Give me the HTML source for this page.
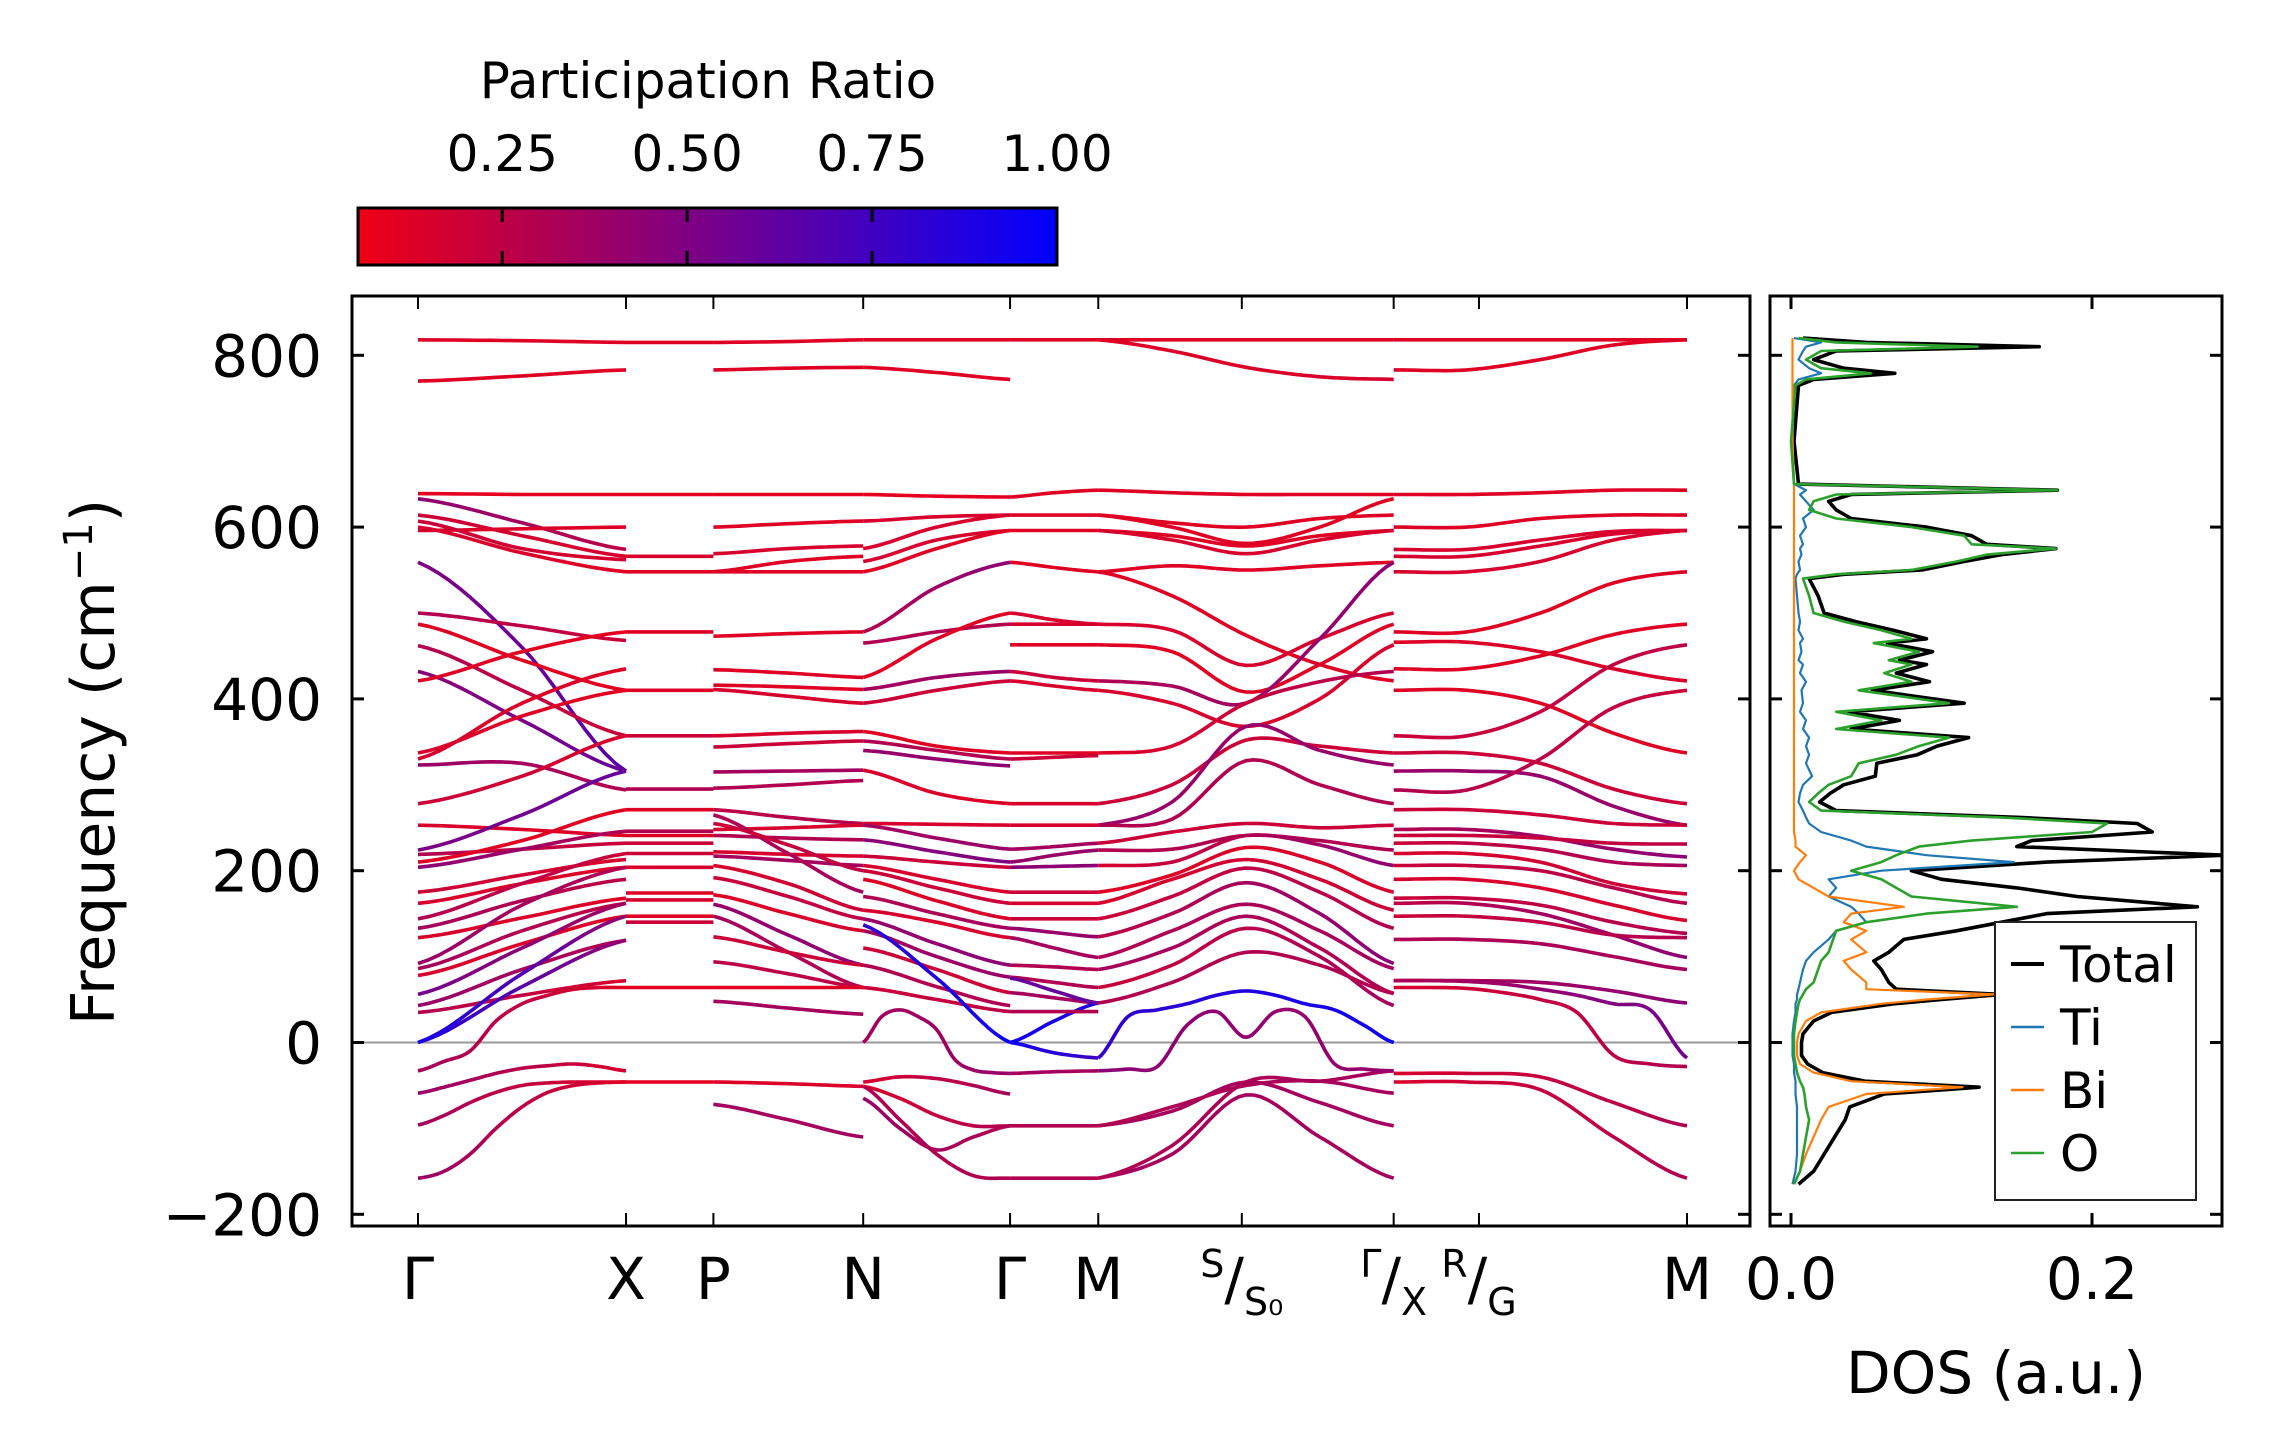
<!DOCTYPE html>
<html><head><meta charset="utf-8"><style>
html,body{margin:0;padding:0;background:#fff;}
svg{display:block;font-family:"DejaVu Sans","Liberation Sans",sans-serif;}
</style></head><body>
<svg id="fig" width="2271" height="1455" viewBox="0 0 2271 1455" xmlns="http://www.w3.org/2000/svg">
<defs>
<linearGradient id="cbar-grad" x1="0" x2="1" y1="0" y2="0"><stop offset="0" stop-color="rgb(240,0,20)"/><stop offset="1" stop-color="rgb(0,0,255)"/></linearGradient>
<clipPath id="main-clip"><rect x="352" y="296" width="1398" height="930"/></clipPath>
<clipPath id="dos-clip"><rect x="1770" y="296" width="452" height="930"/></clipPath>
</defs>
<g id="colorbar">
<text x="708" y="98" text-anchor="middle" font-size="50">Participation Ratio</text>
<rect x="358" y="208" width="699" height="57" fill="url(#cbar-grad)" stroke="#000" stroke-width="3"/>
<g id="cbar-ticks"></g>
</g>
<g id="main">
<line x1="352" x2="1750" y1="1042.5" y2="1042.5" stroke="#999" stroke-width="2"/>
<g id="bands" clip-path="url(#main-clip)"></g>
<rect x="352" y="296" width="1398" height="930" fill="none" stroke="#000" stroke-width="3"/>
<g id="main-axes"></g>
<text transform="translate(114,762) rotate(-90)" text-anchor="middle" font-size="60">Frequency (cm<tspan dy="-22" font-size="40">−1</tspan><tspan dy="22">)</tspan></text>
</g>
<g id="dos">
<g id="dos-lines" clip-path="url(#dos-clip)"></g>
<rect x="1770" y="296" width="452" height="930" fill="none" stroke="#000" stroke-width="3"/>
<g id="dos-axes"></g>
<text x="1996" y="1393" text-anchor="middle" font-size="58">DOS (a.u.)</text>
<g id="legend">
<rect x="1995" y="922" width="201" height="278" fill="#fff" stroke="#222" stroke-width="2"/>
</g>
</g>
</svg>
<script>
// ---------- data ----------
const kTickPos=[0,1.0,1.42,2.14,2.846,3.27,3.96,4.69,5.10,6.10];
const freqTicks=[-200,0,200,400,600,800];
const freqTickLabels=["−200","0","200","400","600","800"];
const cbarTicks=[0.25,0.5,0.75,1.0];
const cbarTickLabels=["0.25","0.50","0.75","1.00"];
const dosTicks=[0.0,0.2];
const dosTickLabels=["0.0","0.2"];

const segGX=[0,1.0];
const bandsGX=[
[[818,817,815],.12,.12],[[770,776,783],.12,.12],[[639,638,638],.1,.1],[[633,605,574],.45,.25],
[[614,590,566],.2,.15],[[596,598,600],.15,.12],[[607,575,562],.2,.15],[[600,570,548],.15,.12],
[[559,460,316],.5,.65],[[500,485,468],.3,.2],[[487,445,410],.12,.1],[[462,410,357],.3,.2],
[[432,375,316],.45,.6],[[421,455,478],.12,.1],[[337,380,410],.15,.1],[[330,395,435],.15,.12],
[[323,325,294],.4,.3],[[278,310,357],.2,.15],[[253,248,241],.15,.12],[[224,265,316],.5,.6],
[[219,225,232],.3,.2],[[210,235,271],.12,.1],[[204,225,246],.45,.3],[[175,195,213],.2,.15],
[[162,185,204],.15,.12],[[144,185,220],.3,.2],[[133,165,190],.35,.25],[[122,145,168],.15,.12],
[[92,160,204],.4,.3],[[86,130,162],.35,.25],[[78,115,147],.15,.12],[[56,110,162],.55,.35],
[[43,85,119],.4,.3],[[35,55,72],.3,.15],[[0,80,147],.95,.4],[[0,65,119],.9,.4],
[[-33,-22,-10,25,45,55,62,64,64],.35,.12],[[-59,-52,-44,-36,-30,-27,-25,-28,-33],.4,.15],
[[-96,-85,-70,-58,-50,-47,-46,-46,-46],.35,.12],[[-158,-150,-130,-100,-75,-58,-50,-47,-46],.4,.12]
];
const segXP=[1.0,1.42];
const bandsXP=[
[[815,815],.12,.12],[[638,638],.1,.1],[[566,566],.15,.15],[[548,548],.12,.12],[[478,478],.12,.12],
[[410,410],.12,.12],[[357,357],.2,.2],[[295,295],.3,.3],[[271,271],.12,.12],[[246,246],.3,.3],
[[241,241],.12,.12],[[232,232],.2,.2],[[220,220],.2,.2],[[204,204],.15,.15],[[174,174],.12,.12],
[[166,166],.15,.15],[[147,147],.12,.12],[[140,140],.2,.2],[[64,64],.1,.1],[[-46,-46],.1,.1]
];
const segPN=[1.42,2.14];
const bandsPN=[
[[815,816,818],.12,.12],[[783,785,786],.12,.12],[[638,638,638],.1,.1],[[600,604,607],.12,.12],
[[569,575,578],.15,.15],[[548,560,566],.12,.12],[[548,548,548],.12,.12],[[473,476,478],.12,.12],
[[434,430,425],.12,.12],[[416,414,411],.12,.12],[[411,403,395],.15,.15],[[357,360,362],.15,.15],
[[344,348,351],.2,.2],[[315,316,317],.35,.35],[[296,300,305],.3,.3],[[271,262,255],.25,.3],
[[248,250,253],.15,.15],[[241,238,236],.3,.3],[[222,219,217],.15,.15],[[217,212,206],.35,.35],
[[206,185,154],.15,.2],[[192,170,144],.2,.25],[[172,150,130],.12,.15],[[161,125,90],.4,.45],
[[147,105,64],.35,.3],[[123,105,90],.2,.2],[[94,80,64],.25,.25],[[64,64,64],.1,.12],
[[48,40,33],.35,.35],[[-46,-48,-51],.12,.15],[[-72,-90,-110],.35,.35],[[265,220,175],.3,.35],[[255,230,200],.2,.25]
];
const segNG=[2.14,2.846];
const bandsNG=[
[[818,818,818],.12,.12],[[786,780,772],.12,.12],[[638,636,635],.1,.1],[[607,612,614],.15,.15],
[[575,600,614],.15,.15],[[560,585,596],.15,.15],[[548,575,596],.12,.12],[[478,530,559],.3,.45],
[[465,478,487],.3,.3],[[425,470,500],.12,.12],[[411,425,432],.35,.4],[[395,410,421],.2,.2],
[[362,345,337],.12,.12],[[351,340,330],.3,.3],[[340,330,322],.4,.45],[[317,290,278],.15,.12],
[[255,254,253],.15,.15],[[253,238,225],.35,.4],[[236,222,210],.45,.5],[[217,210,204],.2,.2],
[[206,190,175],.15,.15],[[200,180,162],.2,.2],[[190,165,144],.12,.15],[[170,150,133],.3,.35],
[[154,140,122],.15,.15],[[144,115,90],.4,.45],[[130,100,76],.35,.4],[[110,85,58],.2,.2],
[[90,65,43],.3,.3],[[64,50,36],.2,.25],[[137,75,0],.8,.95],
[[0,30,38,30,15,-20,-32,-35,-36],.35,.4],[[-46,-40,-42,-50,-60],.15,.35],
[[-51,-65,-85,-97,-97],.15,.3],[[-65,-100,-125,-110,-97],.4,.3],[[-51,-90,-130,-155,-158],.3,.3]
];
const segGM=[2.846,3.27];
const bandsGM=[
[[818,818,818],.12,.12],[[635,640,643],.12,.12],[[614,614,614],.12,.12],[[596,596,596],.12,.12],
[[559,553,548],.12,.12],[[500,492,487],.15,.15],[[487,487,487],.15,.15],[[463,463,463],.12,.12],
[[432,425,421],.2,.2],[[421,415,410],.15,.15],[[337,337,337],.12,.12],[[330,332,334],.2,.2],
[[278,278,278],.15,.15],[[253,253,253],.15,.15],[[225,228,232],.35,.35],[[210,218,224],.4,.4],
[[204,205,206],.45,.45],[[175,175,175],.2,.2],[[162,162,162],.15,.15],[[144,144,144],.2,.2],
[[133,128,123],.4,.4],[[122,110,99],.35,.35],[[90,88,85],.3,.3],[[76,70,64],.3,.3],[[58,52,46],.35,.35],
[[0,25,46],.95,.85],[[75,60,46],.6,.6],[[36,36,36],.3,.3],[[0,-12,-18],.95,.75],
[[-36,-34,-33],.35,.35],[[-97,-97,-97],.3,.3],[[-158,-158,-158],.3,.3]
];
const segMG=[3.27,4.69];
const bandsMG=[
[[818,818,818,818,818],.12,.12],[[818,805,786,775,772],.12,.15],[[643,640,638,638,638],.12,.12],
[[614,600,581,600,633],.12,.12],[[614,605,600,610,614],.12,.12],[[596,590,578,590,596],.12,.12],
[[596,585,569,585,596],.15,.15],[[548,555,550,555,559],.12,.12],[[548,520,474,440,421],.12,.12],
[[487,480,439,470,500],.15,.15],[[463,455,408,440,487],.12,.12],[[421,415,395,470,559],.3,.45],
[[410,395,368,400,463],.15,.15],[[337,345,395,420,432],.12,.3],[[278,300,352,345,337],.2,.2],
[[253,280,368,340,323],.4,.4],[[253,260,328,300,278],.3,.3],[[232,245,255,250,253],.2,.2],
[[224,225,241,235,224],.3,.3],[[206,210,241,230,206],.15,.45],[[175,195,227,210,175],.12,.15],
[[162,190,213,190,154],.15,.2],[[144,170,203,175,133],.2,.3],[[123,150,186,150,92],.25,.45],
[[99,130,161,130,86],.3,.35],[[85,110,147,110,57],.35,.3],[[64,90,133,100,43],.2,.35],
[[46,70,105,90,57],.3,.3],[[-97,-80,-46,-70,-97],.35,.35],[[-97,-75,-50,-45,-59],.3,.35],
[[-158,-130,-61,-110,-158],.35,.35],[[-158,-120,-46,-45,-33],.3,.35],
[[-18,30,38,45,55,60,55,45,38,20,0],.8,.95],[[-33,-31,-28,20,36,6,36,30,-25,-31,-33],.45,.4]
];
const segGRM=[4.69,6.10];
const bandsGRM=[
[[818,818,818,818,818],.12,.12],[[783,783,795,812,818],.12,.12],[[638,638,640,643,643],.12,.12],
[[600,600,610,614,614],.12,.12],[[574,574,585,595,596],.15,.15],[[566,566,578,592,596],.15,.15],
[[548,548,560,585,596],.15,.15],[[478,478,500,535,548],.12,.12],[[466,466,455,435,421],.12,.15],
[[435,435,450,475,487],.12,.12],[[410,410,395,360,337],.12,.12],[[357,357,385,440,463],.2,.25],
[[337,337,325,295,278],.2,.2],[[316,316,310,275,253],.4,.4],[[294,294,330,390,410],.3,.2],
[[271,271,265,255,253],.2,.2],[[248,248,240,225,216],.3,.45],[[241,241,238,232,231],.2,.25],
[[232,232,225,210,206],.2,.35],[[220,220,210,185,173],.15,.2],[[206,206,200,180,162],.2,.3],
[[190,190,180,160,142],.15,.15],[[168,168,160,140,127],.2,.3],[[162,162,150,125,99],.25,.45],
[[147,147,140,125,122],.2,.3],[[120,120,115,100,85],.3,.35],[[72,72,70,60,46],.3,.45],
[[64,64,63,58,50,35,-15,-25,-28],.15,.3],[[72,72,71,68,62,55,45,38,-18],.3,.55],
[[-36,-36,-40,-70,-97],.15,.3],[[-46,-46,-55,-110,-158],.15,.3]
];
const bandSegments=[[segGX,bandsGX],[segXP,bandsXP],[segPN,bandsPN],[segNG,bandsNG],[segGM,bandsGM],[segMG,bandsMG],[segGRM,bandsGRM]];

const dosFreq=[820,815,810,805,795,785,779,772,765,700,650,643,638,630,620,610,600,590,580,575,568,560,550,545,540,520,500,490,480,470,465,455,445,440,430,420,410,395,385,375,365,355,345,335,325,310,300,290,280,270,262,255,245,235,228,218,210,200,190,180,170,158,150,140,130,120,105,95,85,70,62,56,50,45,35,25,10,0,-15,-25,-35,-45,-52,-60,-75,-90,-110,-130,-150,-165];
const dosO=[.005,.03,.124,.02,.01,.02,.053,.01,.003,0,.002,.177,.03,.015,.012,.03,.08,.115,.12,.176,.13,.11,.08,.03,.008,.012,.015,.035,.06,.08,.055,.085,.065,.08,.062,.08,.045,.105,.03,.06,.03,.105,.085,.07,.045,.04,.025,.018,.012,.02,.14,.21,.2,.12,.085,.07,.06,.04,.06,.07,.08,.15,.09,.05,.03,.028,.025,.02,.018,.015,.01,.008,.006,.005,.004,.003,.002,.002,.002,.003,.004,.006,.008,.009,.01,.012,.01,.008,.006,.002];
const dosTi=[.002,.02,.01,.008,.005,.012,.02,.005,.002,.001,.002,.01,.006,.01,.015,.008,.01,.006,.008,.006,.007,.005,.006,.004,.003,.004,.005,.006,.005,.008,.006,.007,.005,.008,.006,.01,.007,.008,.006,.01,.008,.012,.01,.012,.01,.014,.008,.006,.005,.008,.01,.012,.02,.04,.05,.09,.148,.06,.025,.03,.025,.04,.045,.05,.03,.025,.015,.01,.008,.006,.005,.004,.004,.003,.003,.002,.001,.001,.001,.002,.002,.003,.003,.003,.004,.004,.004,.004,.003,.001];
const dosBi=[.001,.001,.001,.001,.001,.001,.001,.001,.001,.001,.002,.002,.002,.002,.002,.002,.002,.002,.002,.002,.002,.002,.002,.002,.002,.002,.002,.002,.002,.002,.002,.002,.002,.002,.002,.002,.002,.002,.002,.002,.002,.002,.002,.002,.002,.002,.002,.002,.002,.002,.002,.002,.002,.003,.003,.01,.006,.002,.005,.015,.025,.075,.04,.035,.05,.04,.05,.035,.04,.05,.05,.135,.09,.06,.02,.01,.005,.004,.004,.006,.015,.04,.114,.05,.025,.02,.015,.01,.006,.002];
const dosTotal=[.008,.05,.165,.03,.015,.035,.069,.015,.005,.002,.005,.177,.04,.025,.03,.04,.09,.12,.13,.176,.14,.115,.087,.035,.012,.018,.022,.043,.068,.09,.064,.094,.072,.09,.07,.092,.054,.115,.038,.072,.04,.118,.097,.084,.057,.056,.035,.026,.019,.03,.152,.23,.24,.16,.15,.289,.17,.08,.1,.15,.19,.27,.17,.14,.11,.075,.065,.055,.06,.065,.07,.14,.1,.068,.027,.015,.008,.007,.007,.011,.021,.049,.125,.062,.039,.036,.029,.022,.015,.005];
const legendLabels=["Total","Ti","Bi","O"];
const legendColors=["#000000","#1f77b4","#ff7f0e","#2ca02c"];

// ---------- scales ----------
const NS="http://www.w3.org/2000/svg";
function xk(k){return 418+k*(1687-418)/6.10;}
function yf(f){return 1042.5-f*0.859;}
function xd(v){return 1791+v*1505;}
function xc(v){return 358+(v-0.055)/0.945*699;}
function prColor(p){let t=(p-0.055)/0.945;t=Math.max(0,Math.min(1,t));return "rgb("+Math.round(240*(1-t))+",0,"+Math.round(20+235*t)+")";}
function mk(tag,attrs,parent){const e=document.createElementNS(NS,tag);for(const a in attrs)e.setAttribute(a,attrs[a]);parent.appendChild(e);return e;}

const cbt=document.getElementById('cbar-ticks');
cbarTicks.forEach((v,i)=>{
  const x=xc(v);
  if(v<1){
    const t1=mk('line',{x1:x,x2:x,y1:208,y2:222,stroke:'#000','stroke-width':3},cbt);
    
    
    const t2=mk('line',{x1:x,x2:x,y1:251,y2:265,stroke:'#000','stroke-width':3},cbt);
    
    
  }
  const lb=mk('text',{x:x,y:171,'text-anchor':'middle','font-size':50},cbt);
  lb.textContent=cbarTickLabels[i];
  
  
});

const bg=document.getElementById('bands');
const defs=document.querySelector('defs');
let gid=0;
function spline(vals,k0,k1){
  const n=vals.length,pts=[];
  for(let i=0;i<n-1;i++){
    const p0=vals[i-1]!==undefined?vals[i-1]:vals[i],p1=vals[i],p2=vals[i+1],p3=vals[i+2]!==undefined?vals[i+2]:vals[i+1];
    for(let s=0;s<10;s++){
      const t=s/10,t2=t*t,t3=t2*t;
      const v=0.5*((2*p1)+(-p0+p2)*t+(2*p0-5*p1+4*p2-p3)*t2+(-p0+3*p1-3*p2+p3)*t3);
      const k=k0+(i+t)/(n-1)*(k1-k0);
      pts.push([xk(k),yf(v)]);
    }
  }
  pts.push([xk(k1),yf(vals[n-1])]);
  return pts;
}
bandSegments.forEach(([seg,bands])=>{
  bands.forEach(b=>{
    const pts=spline(b[0],seg[0],seg[1]);
    const d="M"+pts.map(p=>p[0].toFixed(1)+","+p[1].toFixed(1)).join("L");
    let stroke;
    if(Math.abs(b[1]-b[2])<0.01){stroke=prColor(b[1]);}
    else{
      const id="bg"+(gid++);
      const g=mk('linearGradient',{id:id,gradientUnits:'userSpaceOnUse',x1:xk(seg[0]),x2:xk(seg[1]),y1:0,y2:0},defs);
      mk('stop',{offset:0,'stop-color':prColor(b[1])},g);
      mk('stop',{offset:1,'stop-color':prColor(b[2])},g);
      stroke="url(#"+id+")";
    }
    const p=mk('path',{d:d,fill:'none',stroke:stroke,'stroke-width':3.6,'stroke-linejoin':'round'},bg);
    
    
  });
});

const ma=document.getElementById('main-axes');
freqTicks.forEach((f,i)=>{
  const y=yf(f);
  const a=mk('line',{x1:352,x2:364,y1:y,y2:y,stroke:'#000','stroke-width':3},ma);
  
  
  const b=mk('line',{x1:1738,x2:1750,y1:y,y2:y,stroke:'#000','stroke-width':3},ma);
  
  
  const t=mk('text',{x:322,y:y+21,'text-anchor':'end','font-size':58},ma);
  t.textContent=freqTickLabels[i];
  
  
});
kTickPos.forEach(k=>{
  const x=xk(k);
  const a=mk('line',{x1:x,x2:x,y1:296,y2:309,stroke:'#000','stroke-width':2},ma);
  
  
  const b=mk('line',{x1:x,x2:x,y1:1213,y2:1226,stroke:'#000','stroke-width':2},ma);
  
  
});
const kLabels=[["Γ"],["X"],["P"],["N"],["Γ"],["M"],["S","S₀"],["Γ","X"],["R","G"],["M"]];
kLabels.forEach((lab,i)=>{
  const x=xk(kTickPos[i]);
  const t=mk('text',{x:x,y:1299,'text-anchor':'middle','font-size':58},ma);
  
  
  if(lab.length===1){t.textContent=lab[0];}
  else{
    const s1=mk('tspan',{'font-size':38,dy:-22},t);s1.textContent=lab[0];
    const s2=mk('tspan',{'font-size':58,dy:22},t);s2.textContent="/";
    const s3=mk('tspan',{'font-size':38,dy:16},t);s3.textContent=lab[1];
  }
});

const dl=document.getElementById('dos-lines');
const dosSeries=[[dosTotal,"#000000",3.6,'dos-total-line'],[dosTi,"#1f77b4",2.2,'dos-ti-line'],[dosBi,"#ff7f0e",2.2,'dos-bi-line'],[dosO,"#2ca02c",2.6,'dos-o-line']];
dosSeries.forEach(s=>{
  const pts=dosFreq.map((f,i)=>xd(s[0][i]).toFixed(1)+","+yf(f).toFixed(1)).join(" ");
  const pl=mk('polyline',{points:pts,fill:'none',stroke:s[1],'stroke-width':s[2],'stroke-linejoin':'round'},dl);
  
  
});
const da=document.getElementById('dos-axes');
freqTicks.forEach(f=>{
  const y=yf(f);
  const a=mk('line',{x1:1770,x2:1782,y1:y,y2:y,stroke:'#000','stroke-width':3},da);
  
  
  const b=mk('line',{x1:2210,x2:2222,y1:y,y2:y,stroke:'#000','stroke-width':3},da);
  
  
});
dosTicks.forEach((v,i)=>{
  const x=xd(v);
  const a=mk('line',{x1:x,x2:x,y1:296,y2:309,stroke:'#000','stroke-width':3},da);
  
  
  const b=mk('line',{x1:x,x2:x,y1:1213,y2:1226,stroke:'#000','stroke-width':3},da);
  
  
  const t=mk('text',{x:x,y:1299,'text-anchor':'middle','font-size':58},da);
  t.textContent=dosTickLabels[i];
  
  
});
const lg=document.getElementById('legend');
legendLabels.forEach((lab,i)=>{
  const y=964+i*63;
  const l=mk('line',{x1:2011,x2:2044,y1:y,y2:y,stroke:legendColors[i],'stroke-width':i===0?4:2.6},lg);
  
  
  const t=mk('text',{x:2060,y:y+18,'font-size':50},lg);
  t.textContent=lab;
  
  
});
</script>
</body></html>
